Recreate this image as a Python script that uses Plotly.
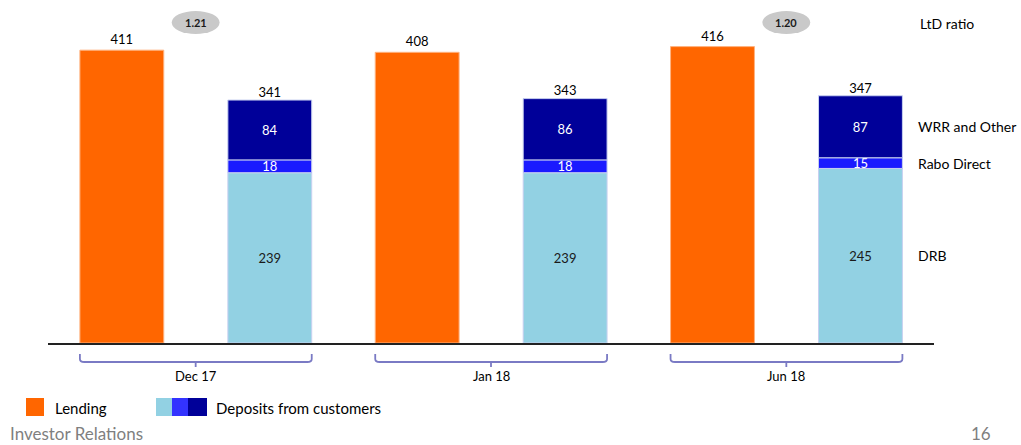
import plotly.graph_objects as go

# ---- data -------------------------------------------------------------
categories = ["Dec 17", "Jan 18", "Jun 18"]
lending = [411, 408, 416]
drb = [239, 239, 245]
rabo_direct = [18, 18, 15]
wrr_other = [84, 86, 87]
ltd_ratio = [1.21, None, 1.20]
segment_names = ["DRB", "Rabo Direct", "WRR and Other"]

# ---- styling ----------------------------------------------------------
ORANGE = "#FF6600"
LIGHT_BLUE = "#92D1E3"
MID_BLUE = "#1A1AFF"
NAVY = "#000099"
FONT = "Lato"
W, H = 1021, 445
ML, MR, MT, MB = 48, 87, 0, 102
PX_PER_UNIT = 0.7125

plot_w = W - ML - MR
plot_h = H - MT - MB
y_max = plot_h / PX_PER_UNIT

BAR_W = 0.284
LEND_OFF = -0.392
DEP_OFF = 0.109


def px_x(p):
    return (p - ML) / plot_w


def px_y(p):
    return (plot_h + MT - p) / plot_h


def note(x, y, text, size, color="black", xanchor="center",
         xref="paper", yref="paper"):
    return dict(x=x, y=y, xref=xref, yref=yref, text=text,
                xanchor=xanchor, yanchor="middle", showarrow=False,
                font=dict(family=FONT, size=size, color=color))


xs = list(range(len(categories)))
dep_totals = [a + b + c for a, b, c in zip(drb, rabo_direct, wrr_other)]
base_rabo = drb
base_wrr = [a + b for a, b in zip(drb, rabo_direct)]

fig = go.Figure()

fig.add_bar(
    x=xs, y=lending, width=BAR_W, offset=LEND_OFF,
    marker=dict(color=ORANGE, line=dict(color="#FFB380", width=1)),
    text=[str(v) for v in lending], textposition="outside",
    textangle=0,
    textfont=dict(family=FONT, size=13, color="black"),
    cliponaxis=False, name="Lending",
)

seg_defs = [
    (drb, [0] * len(drb), LIGHT_BLUE, "#1a1a1a"),
    (rabo_direct, base_rabo, MID_BLUE, "white"),
    (wrr_other, base_wrr, NAVY, "white"),
]
for (vals, base, color, tcolor), nm in zip(seg_defs, segment_names):
    fig.add_bar(
        x=xs, y=vals, base=base, width=BAR_W, offset=DEP_OFF,
        marker=dict(color=color, line=dict(color="#C8D0F0", width=1)),
        text=[str(v) for v in vals], textposition="inside",
        insidetextanchor="middle", textangle=0,
        textfont=dict(family=FONT, size=13, color=tcolor),
        name=nm,
    )

# totals above the deposit stacks
fig.add_scatter(
    x=[x + DEP_OFF + BAR_W / 2 for x in xs], y=dep_totals,
    mode="text", text=[str(v) for v in dep_totals],
    textposition="top center",
    textfont=dict(family=FONT, size=13, color="black"),
    cliponaxis=False, hoverinfo="skip",
)

shapes = []
annotations = []

# LtD ratio bubbles
for x, r in zip(xs, ltd_ratio):
    if r is None:
        continue
    shapes.append(dict(
        type="circle", xref="x", yref="paper",
        x0=x - 0.081, x1=x + 0.081, y0=px_y(34), y1=px_y(11),
        fillcolor="#C9C9C9", line=dict(width=0), layer="above",
    ))
    annotations.append(note(x, px_y(22.5), f"<b>{r:.2f}</b>", 11,
                            color="#1a1a1a", xref="x"))

# right-hand segment labels, aligned with the last stack
last = len(xs) - 1
mids = [
    drb[last] / 2,
    base_rabo[last] + rabo_direct[last] / 2,
    base_wrr[last] + wrr_other[last] / 2,
]
for nm, m in zip(segment_names, mids):
    annotations.append(note(px_x(916), m, nm, 14, xanchor="left", yref="y"))
annotations.append(note(px_x(918), px_y(23), "LtD ratio", 14,
                        xanchor="left"))

# group brackets and period labels
BR_COL = "#7A7AC4"
y_top, y_bot, y_tick = px_y(354), px_y(362), px_y(367)
for x, cat in zip(xs, categories):
    x0 = x + LEND_OFF
    x1 = x + DEP_OFF + BAR_W
    r = 0.015
    path = (
        f"M {x0},{y_top} L {x0},{px_y(359)} Q {x0},{y_bot} {x0 + r},{y_bot} "
        f"L {x1 - r},{y_bot} Q {x1},{y_bot} {x1},{px_y(359)} L {x1},{y_top} "
        f"M {x},{y_bot} L {x},{y_tick}"
    )
    shapes.append(dict(type="path", xref="x", yref="paper", path=path,
                       line=dict(color=BR_COL, width=1.8)))
    annotations.append(note(x, px_y(376), cat, 13, xref="x"))


# legend drawn by hand (deposits use a three-colour swatch)
def swatch(x0, x1, color):
    shapes.append(dict(
        type="rect", xref="paper", yref="paper",
        x0=px_x(x0), x1=px_x(x1), y0=px_y(416), y1=px_y(398),
        fillcolor=color, line=dict(width=0),
    ))


swatch(26, 44, ORANGE)
swatch(156, 172, LIGHT_BLUE)
swatch(172, 188, "#3333FF")
swatch(188, 207, NAVY)
annotations.append(note(px_x(53), px_y(408), "Lending", 15, xanchor="left"))
annotations.append(note(px_x(214), px_y(408), "Deposits from customers", 15,
                        xanchor="left"))

# footer
annotations.append(note(px_x(8), px_y(433), "Investor Relations", 17,
                        color="#7F7F7F", xanchor="left"))
annotations.append(note(px_x(993), px_y(433), "16", 17,
                        color="#7F7F7F", xanchor="right"))

fig.update_layout(
    width=W, height=H,
    margin=dict(l=ML, r=MR, t=MT, b=MB),
    barmode="overlay",
    showlegend=False,
    plot_bgcolor="white", paper_bgcolor="white",
    uniformtext=dict(minsize=12, mode="show"),
    xaxis=dict(range=[-0.5, len(categories) - 0.5], showgrid=False,
               zeroline=False, showticklabels=False, ticks="",
               showline=True, linecolor="#222222", linewidth=1.5),
    yaxis=dict(range=[0, y_max], visible=False),
    shapes=shapes, annotations=annotations,
    font=dict(family=FONT),
)

fig.write_html("out.html")
